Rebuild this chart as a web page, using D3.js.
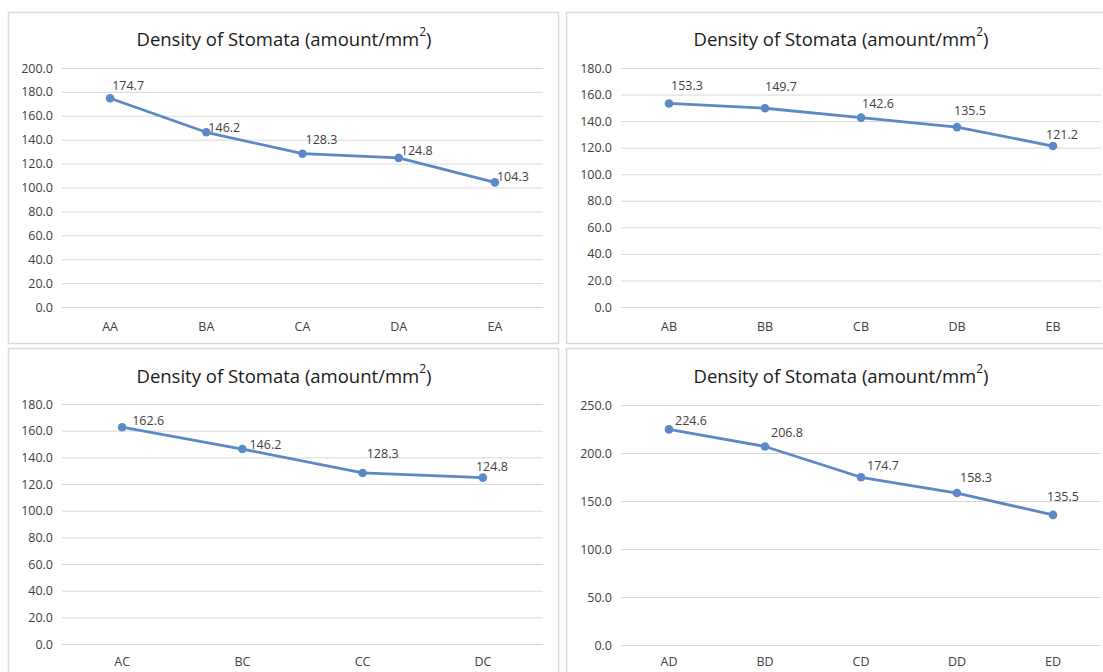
<!DOCTYPE html>
<html>
<head>
<meta charset="utf-8">
<script src="https://cdn.jsdelivr.net/npm/d3@7"></script>
<style>
  html, body { margin: 0; padding: 0; background: #fff; }
  svg { display: block; }
  text { font-family: "Open Sans", "Liberation Sans", sans-serif; }
</style>
</head>
<body>
<svg id="chart" width="1103" height="672"></svg>
<script>
// ---------- DATA ----------
const titleText = "Density of Stomata (amount/mm";
const titleSup = "2";

const categoriesA = ["AA", "BA", "CA", "DA", "EA"];
const valuesA = [174.7, 146.2, 128.3, 124.8, 104.3];
const ticksA = [0, 20, 40, 60, 80, 100, 120, 140, 160, 180, 200];

const categoriesB = ["AB", "BB", "CB", "DB", "EB"];
const valuesB = [153.3, 149.7, 142.6, 135.5, 121.2];
const ticksB = [0, 20, 40, 60, 80, 100, 120, 140, 160, 180];

const categoriesC = ["AC", "BC", "CC", "DC"];
const valuesC = [162.6, 146.2, 128.3, 124.8];
const ticksC = [0, 20, 40, 60, 80, 100, 120, 140, 160, 180];

const categoriesD = ["AD", "BD", "CD", "DD", "ED"];
const valuesD = [224.6, 206.8, 174.7, 158.3, 135.5];
const ticksD = [0, 50, 100, 150, 200, 250];

// ---------- LAYOUT (positions / styling) ----------
const panels = [
  { cats: categoriesA, vals: valuesA, ticks: ticksA,
    box: [8, 12, 550, 331], plot: [62, 543, 68, 307], titleX: 284, titleY: 38, xLabY: 327,
    labOff: [[18,-13],[18,-5],[19,-14],[18,-7],[18,-6]] },
  { cats: categoriesB, vals: valuesB, ticks: ticksB,
    box: [566, 12, 560, 331], plot: [621, 1101, 68, 307], titleX: 841, titleY: 38, xLabY: 327,
    labOff: [[18,-18],[16,-22],[17,-14],[13,-17],[9,-12]] },
  { cats: categoriesC, vals: valuesC, ticks: ticksC,
    box: [8, 348, 550, 340], plot: [62, 543, 404, 644], titleX: 284, titleY: 375, xLabY: 662,
    labOff: [[26,-7],[23,-5],[20,-19],[9,-11]] },
  { cats: categoriesD, vals: valuesD, ticks: ticksD,
    box: [566, 348, 560, 340], plot: [621, 1101, 405, 645], titleX: 841, titleY: 375, xLabY: 662,
    labOff: [[22,-9],[22,-14],[22,-12],[19,-16],[10,-18]] }
];

const lineColor = "#5b89c6";
const gridColor = "#d9d9d9";
const svg = d3.select("#chart");

panels.forEach(p => {
  const g = svg.append("g");
  const [bx, by, bw, bh] = p.box;
  const [pl, pr, pt, pb] = p.plot;

  g.append("rect")
    .attr("x", bx + 0.5).attr("y", by + 0.5)
    .attr("width", bw).attr("height", bh)
    .attr("fill", "#fff").attr("stroke", gridColor).attr("stroke-width", 1.5);

  const x = d3.scaleBand().domain(p.cats).range([pl, pr]);
  const y = d3.scaleLinear().domain([0, d3.max(p.ticks)]).range([pb, pt]);

  // title
  const t = g.append("text")
    .attr("x", p.titleX)
    .attr("y", p.titleY)
    .attr("text-anchor", "middle")
    .attr("dominant-baseline", "central")
    .attr("font-size", 18.5)
    .attr("fill", "#1a1a1a");
  t.append("tspan").text(titleText);
  t.append("tspan").text(titleSup).attr("font-size", 12).attr("dy", -7);
  t.append("tspan").text(")").attr("dy", 7);

  // gridlines + y tick labels
  const yAxis = d3.axisLeft(y).tickValues(p.ticks).tickFormat(d3.format(".1f"))
    .tickSize(-(pr - pl)).tickPadding(9);
  const ya = g.append("g").attr("transform", `translate(${pl},0)`).call(yAxis);
  ya.select(".domain").remove();
  ya.selectAll(".tick line").attr("stroke", gridColor).attr("stroke-width", 1);
  ya.selectAll(".tick text").attr("fill", "#404040").attr("font-size", 12.5)
    .attr("font-family", "'Open Sans', sans-serif");

  // x axis labels
  const xAxis = d3.axisBottom(x).tickSize(0).tickPadding(0);
  const xa = g.append("g").attr("transform", `translate(0,${p.xLabY})`).call(xAxis);
  xa.select(".domain").remove();
  xa.selectAll(".tick text").attr("fill", "#404040").attr("font-size", 12.5)
    .attr("dy", "0.35em").attr("y", 0)
    .attr("font-family", "'Open Sans', sans-serif");

  const cx = d => x(d) + x.bandwidth() / 2;

  // line
  const line = d3.line().x((d, i) => cx(p.cats[i])).y(d => y(d));
  g.append("path").datum(p.vals)
    .attr("d", line).attr("fill", "none")
    .attr("stroke", lineColor).attr("stroke-width", 2.8)
    .attr("stroke-linejoin", "round").attr("stroke-linecap", "round");

  g.selectAll("circle.pt").data(p.vals).join("circle")
    .attr("class", "pt")
    .attr("cx", (d, i) => cx(p.cats[i])).attr("cy", d => y(d))
    .attr("r", 4.3).attr("fill", lineColor);

  g.selectAll("text.lab").data(p.vals).join("text")
    .attr("class", "lab")
    .attr("x", (d, i) => cx(p.cats[i]) + p.labOff[i][0])
    .attr("y", (d, i) => y(d) + p.labOff[i][1])
    .attr("text-anchor", "middle").attr("dominant-baseline", "central")
    .attr("font-size", 12.5).attr("fill", "#404040")
    .text(d => d3.format(".1f")(d));
});
</script>
</body>
</html>
